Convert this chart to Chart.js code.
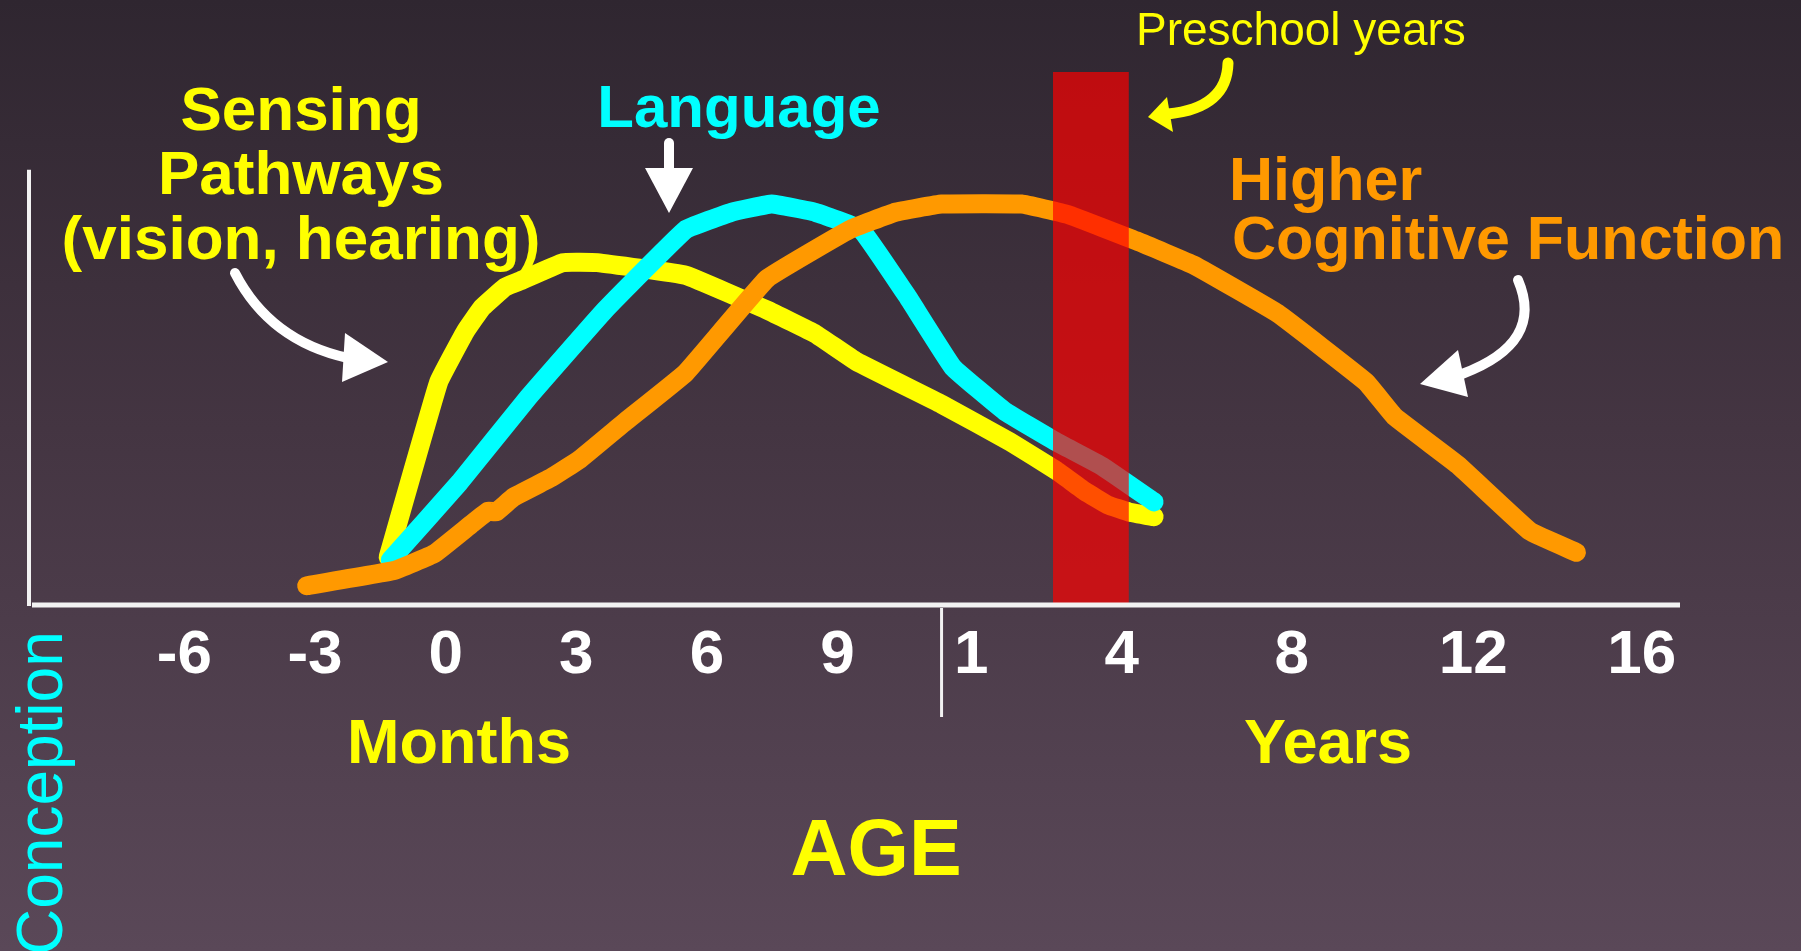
<!DOCTYPE html>
<html lang="en">
<head>
    <meta charset="UTF-8">
    <title>Brain development by age</title>
    <style>
        html, body {
            margin: 0;
            padding: 0;
            overflow: hidden;
        }
        body {
            background: linear-gradient(to bottom, #2f2630 0%, #443542 45%, #5a4858 100%);
        }
        .wrap {
            position: relative;
            width: 1801px;
            height: 951px;
        }
    </style>
</head>
<body>
    <div class="wrap">
        <canvas id="ageChart"></canvas>
    </div>

    <script src="https://cdn.jsdelivr.net/npm/chart.js"></script>
    <script>
        // x is an axis position: months up to birth, then years squeezed in
        const tickPos = [-6, -3, 0, 3, 6, 9, 12.07, 15.53, 19.43, 23.6, 27.47];
        const tickLabels = ['-6', '-3', '0', '3', '6', '9', '1', '4', '8', '12', '16'];
        const birthMark = 11.39;
        const preschoolFrom = 13.95;
        const preschoolTo = 15.69;

        // Sensing pathways (vision, hearing)
        const sensingAge = [-1.32, -0.16, 0.45, 0.84, 1.37, 1.69, 2.69, 3.48, 5.51, 7.38, 8.49, 9.44, 11.39, 12.97, 14.03, 14.69, 15.21, 15.69, 16.27];
        const sensingLevel = [10.8, 51.1, 62.7, 68.3, 73.0, 74.3, 78.6, 78.6, 75.7, 67.7, 62.2, 55.8, 46.0, 37.3, 30.7, 25.9, 22.8, 21.2, 20.1];

        // Language
        const languageAge = [-1.27, 0.32, 1.90, 3.66, 5.51, 6.56, 7.49, 8.49, 9.54, 10.60, 11.65, 12.84, 14.03, 15.08, 16.27];
        const languageLevel = [10.1, 28.0, 47.6, 67.7, 86.2, 90.2, 92.1, 90.2, 86.2, 70.9, 54.5, 44.4, 37.3, 31.7, 23.5];

        // Higher cognitive function
        const cognitiveAge = [-3.19, -1.19, -0.26, 0.58, 0.98, 1.16, 1.56, 2.43, 3.08, 4.14, 5.51, 7.38, 9.28, 10.33, 11.39, 13.23, 14.29, 15.87, 17.19, 19.11, 21.14, 21.8, 23.25, 24.91, 25.97];
        const cognitiveLevel = [4.2, 7.7, 11.6, 18.3, 21.4, 21.2, 24.6, 29.1, 33.3, 42.1, 53.2, 74.9, 86.2, 90.2, 92.1, 92.1, 89.7, 83.6, 78.0, 66.9, 51.1, 43.1, 32.0, 16.7, 11.9];

        const FONT = "'Liberation Sans', Arial, sans-serif";

        function pairs(xs, ys) {
            return xs.map((x, i) => ({ x: x, y: ys[i] }));
        }

        function curveDataset(label, xs, ys, color, order) {
            return {
                label: label,
                data: pairs(xs, ys),
                borderColor: color,
                backgroundColor: color,
                borderWidth: 19,
                borderCapStyle: 'round',
                borderJoinStyle: 'round',
                pointRadius: 0,
                tension: 0.08,
                fill: false,
                clip: false,
                order: order
            };
        }

        function text(ctx, str, x, y, size, color, bold, align) {
            ctx.font = (bold ? 'bold ' : '') + size + 'px ' + FONT;
            ctx.fillStyle = color;
            ctx.textAlign = align || 'center';
            ctx.textBaseline = 'alphabetic';
            ctx.fillText(str, x, y);
        }

        function arrow(ctx, p0, c, p1, head, color, width) {
            ctx.save();
            ctx.strokeStyle = color;
            ctx.fillStyle = color;
            ctx.lineWidth = width;
            ctx.lineCap = 'round';
            ctx.beginPath();
            ctx.moveTo(p0[0], p0[1]);
            if (c) ctx.quadraticCurveTo(c[0], c[1], p1[0], p1[1]);
            else ctx.lineTo(p1[0], p1[1]);
            ctx.stroke();
            ctx.beginPath();
            ctx.moveTo(head[0][0], head[0][1]);
            ctx.lineTo(head[1][0], head[1][1]);
            ctx.lineTo(head[2][0], head[2][1]);
            ctx.closePath();
            ctx.fill();
            ctx.restore();
        }

        // axes, labels, preschool band and the callouts
        const decor = {
            id: 'decor',
            beforeDatasetsDraw(chart) {
                const ctx = chart.ctx;
                const ys = chart.scales.y;
                const base = ys.getPixelForValue(0);
                ctx.save();
                ctx.strokeStyle = '#f2f2f2';
                ctx.lineWidth = 4;
                ctx.beginPath();
                ctx.moveTo(chart.chartArea.left - 3, ys.getPixelForValue(100));
                ctx.lineTo(chart.chartArea.left - 3, base + 2);
                ctx.stroke();
                ctx.restore();
            },
            afterDatasetsDraw(chart) {
                const ctx = chart.ctx;
                const xs = chart.scales.x;
                const ys = chart.scales.y;
                const area = chart.chartArea;
                const base = ys.getPixelForValue(0);

                ctx.save();
                // preschool years band, drawn over the curves
                const bx0 = xs.getPixelForValue(preschoolFrom);
                const bx1 = xs.getPixelForValue(preschoolTo);
                ctx.fillStyle = 'rgba(255, 0, 0, 0.69)';
                ctx.fillRect(bx0, area.top, bx1 - bx0, base - area.top - 1);

                // x axis line
                ctx.strokeStyle = '#f2f2f2';
                ctx.lineWidth = 5;
                ctx.beginPath();
                ctx.moveTo(area.left, base + 1);
                ctx.lineTo(area.right, base + 1);
                ctx.stroke();

                // birth divider
                const dx = xs.getPixelForValue(birthMark);
                ctx.lineWidth = 3;
                ctx.beginPath();
                ctx.moveTo(dx, base + 4);
                ctx.lineTo(dx, base + 113);
                ctx.stroke();

                // tick labels
                tickPos.forEach((v, i) => {
                    text(ctx, tickLabels[i], xs.getPixelForValue(v), base + 69, 62, '#ffffff', true);
                });

                text(ctx, 'Months', 459, 763, 63, '#ffff00', true);
                text(ctx, 'Years', 1328, 763, 63, '#ffff00', true);
                text(ctx, 'AGE', 876, 875, 79, '#ffff00', true);

                // Conception, rotated
                ctx.save();
                ctx.translate(62, 955);
                ctx.rotate(-Math.PI / 2);
                text(ctx, 'Conception', 0, 0, 64, '#00ffff', false, 'left');
                ctx.restore();

                // callout texts
                text(ctx, 'Sensing', 301, 130, 62, '#ffff00', true);
                text(ctx, 'Pathways', 301, 194, 62, '#ffff00', true);
                text(ctx, '(vision, hearing)', 301, 259, 62, '#ffff00', true);
                text(ctx, 'Language', 739, 127, 60, '#00ffff', true);
                text(ctx, 'Higher', 1229, 200, 61, '#ff9900', true, 'left');
                text(ctx, 'Cognitive Function', 1232, 259, 61, '#ff9900', true, 'left');
                text(ctx, 'Preschool years', 1136, 45, 46, '#ffff00', false, 'left');

                // arrows
                arrow(ctx, [235, 273], [270, 341], [348, 358],
                    [[345, 333], [388, 362], [342, 382]], '#ffffff', 10);
                arrow(ctx, [669, 143], null, [669, 172],
                    [[645, 168], [693, 168], [669, 213]], '#ffffff', 10);
                arrow(ctx, [1518, 280], [1545, 343], [1462, 374],
                    [[1458, 350], [1420, 384], [1468, 397]], '#ffffff', 10);
                arrow(ctx, [1228, 63], [1227, 108], [1168, 114],
                    [[1167, 97], [1148, 117], [1173, 132]], '#ffff00', 11);
                ctx.restore();
            }
        };

        window.onload = function() {
            const ctx = document.getElementById('ageChart').getContext('2d');
            new Chart(ctx, {
                type: 'line',
                data: {
                    datasets: [
                        curveDataset('Higher Cognitive Function', cognitiveAge, cognitiveLevel, '#ff9900', 1),
                        curveDataset('Language', languageAge, languageLevel, '#00ffff', 2),
                        curveDataset('Sensing Pathways', sensingAge, sensingLevel, '#ffff00', 3)
                    ]
                },
                options: {
                    responsive: true,
                    maintainAspectRatio: false,
                    animation: false,
                    layout: {
                        padding: { left: 32, right: 121, top: 72, bottom: 347 }
                    },
                    scales: {
                        x: { type: 'linear', min: -9.5, max: 28.35, display: false },
                        y: { type: 'linear', min: 0, max: 122.5, display: false }
                    },
                    plugins: {
                        legend: { display: false },
                        tooltip: { enabled: false }
                    }
                },
                plugins: [decor]
            });
        };
    </script>
</body>
</html>
